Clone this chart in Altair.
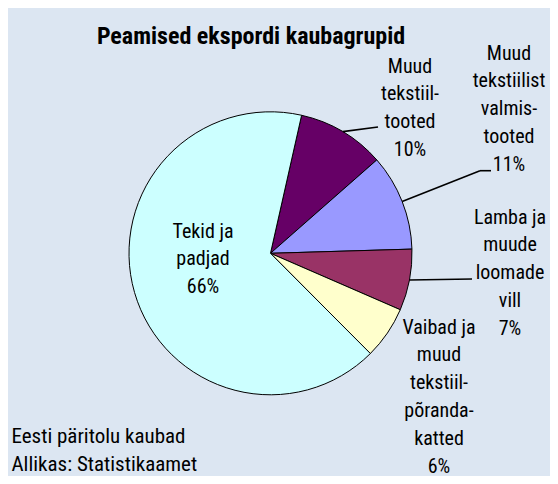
import math
import altair as alt
import pandas as pd

# ---- data ----
categories = [
    "Muud tekstiiltooted",
    "Muud tekstiilist valmistooted",
    "Lamba ja muude loomade vill",
    "Vaibad ja muud tekstiilpõrandakatted",
    "Tekid ja padjad",
]
values = [10, 11, 7, 6, 66]
label_lines = [
    ["Muud", "tekstiil-", "tooted", "10%"],
    ["Muud", "tekstiilist", "valmis-", "tooted", "11%"],
    ["Lamba ja", "muude", "loomade", "vill", "7%"],
    ["Vaibad ja", "muud", "tekstiil-", "põranda-", "katted", "6%"],
    ["Tekid ja", "padjad", "66%"],
]
colors = ["#660066", "#9999ff", "#993366", "#ffffcc", "#ccffff"]
title_text = "Peamised ekspordi kaubagrupid"
footnote_lines = ["Eesti päritolu kaubad", "Allikas: Statistikaamet"]

# ---- layout (positions / styles) ----
W, H = 542, 468
CX, CY, R = 262.5, 245.3, 141.5
START = math.radians(12.7)
FONT = "Roboto Condensed, Liberation Sans Narrow, DejaVu Sans Condensed, Roboto, sans-serif"
FS = 20
LH = 27.8
# label anchor: x centre, baseline of first line
label_x = [402, 501, 502, 431, 195]
label_y = [64.5, 51.5, 215.5, 325.5, 229.5]
# leader line end points (None = no leader)
leader_x = [370, 472, 464, None, None]
leader_y = [119, 162.7, 271, None, None]
tail_x = [370, 483, 464, None, None]

df = pd.DataFrame({
    "cat": categories,
    "value": values,
    "order": list(range(len(categories))),
    "label": ["\n".join(l) for l in label_lines],
    "lx": label_x,
    "ly": label_y,
    "ex": [v if v is not None else 0 for v in leader_x],
    "ey": [v if v is not None else 0 for v in leader_y],
    "tx": [v if v is not None else 0 for v in tail_x],
    "has_leader": [v is not None for v in leader_x],
})

base = alt.Chart(df)

pie = base.mark_arc(outerRadius=R, stroke="black", strokeWidth=1).encode(
    theta=alt.Theta("value:Q", stack=True,
                    scale=alt.Scale(range=[START, START + 2 * math.pi])),
    color=alt.Color("cat:N", scale=alt.Scale(domain=categories, range=colors), legend=None),
    order=alt.Order("order:Q"),
    x=alt.value(CX),
    y=alt.value(CY),
)

leader_base = (
    base.transform_joinaggregate(total="sum(value)")
    .transform_window(cum="sum(value)", sort=[alt.SortField("order")])
    .transform_calculate(mid=f"(datum.cum - datum.value/2)/datum.total*2*PI + {START}")
    .transform_calculate(x0=f"{CX} + {R}*sin(datum.mid)")
    .transform_calculate(y0=f"{CY} - {R}*cos(datum.mid)")
    .transform_filter("datum.has_leader")
)

leaders = leader_base.mark_rule(color="black", strokeWidth=1.6).encode(
    x=alt.X("x0:Q", scale=None),
    y=alt.Y("y0:Q", scale=None),
    x2="ex:Q",
    y2="ey:Q",
)
tails = leader_base.mark_rule(color="black", strokeWidth=1.6).encode(
    x=alt.X("ex:Q", scale=None),
    y=alt.Y("ey:Q", scale=None),
    x2="tx:Q",
    y2="ey:Q",
)

labels = base.mark_text(
    font=FONT, fontSize=FS, lineHeight=LH, lineBreak="\n",
    align="center", baseline="alphabetic", color="black",
).encode(
    x=alt.X("lx:Q", scale=None),
    y=alt.Y("ly:Q", scale=None),
    text="label:N",
)

title = alt.Chart(pd.DataFrame({"t": [title_text]})).mark_text(
    font=FONT, fontSize=24, fontWeight="bold", align="center",
    baseline="alphabetic", color="black",
).encode(x=alt.value(243), y=alt.value(35.5), text="t:N")

foot = alt.Chart(pd.DataFrame({"t": ["\n".join(footnote_lines)]})).mark_text(
    font=FONT, fontSize=21, lineHeight=28, lineBreak="\n", align="left",
    baseline="alphabetic", color="black",
).encode(x=alt.value(3.5), y=alt.value(435), text="t:N")

chart = (
    alt.layer(pie, leaders, tails, labels, title, foot)
    .properties(width=W, height=H, padding=0, autosize="none", background="#dce6f2")
    .configure_view(strokeWidth=0)
)

chart.save("out.html", embed_options={"renderer": "svg", "actions": False})
